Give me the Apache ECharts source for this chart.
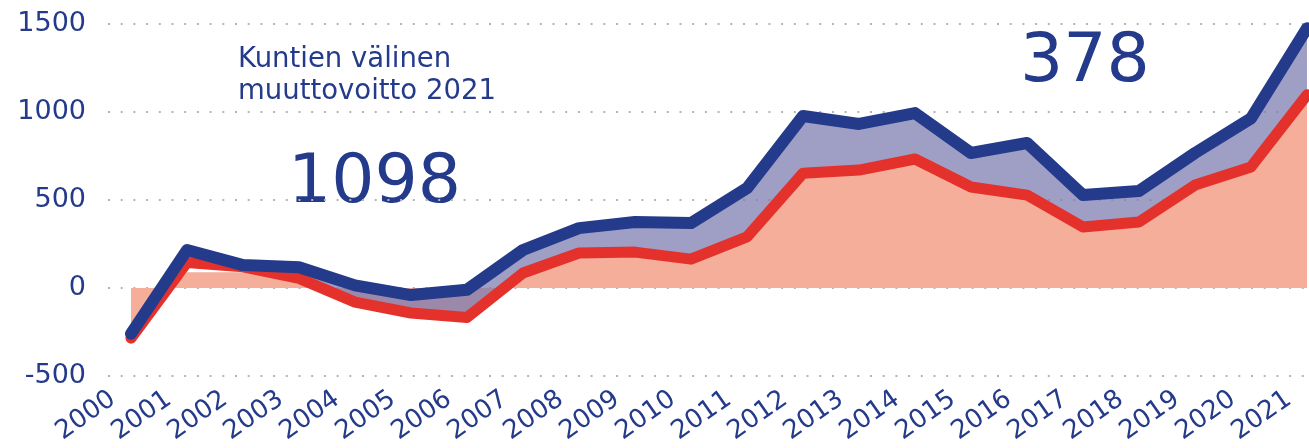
<!DOCTYPE html>
<html>
<head>
<meta charset="utf-8">
<script src="https://cdn.jsdelivr.net/npm/echarts@6/dist/echarts.min.js"></script>
<style>
  html, body { margin: 0; padding: 0; background: #fff; }
  #chart { width: 1309px; height: 448px; }
</style>
</head>
<body>
<div id="chart"></div>
<script>
// vuodet
const years = ['2000', '2001', '2002', '2003', '2004', '2005', '2006', '2007', '2008', '2009', '2010',
  '2011', '2012', '2013', '2014', '2015', '2016', '2017', '2018', '2019', '2020', '2021']
// kokonaismuuttovoitto (sininen viiva)
const totalGain = [-260, 216, 130, 118, 15, -40, -10, 216, 340, 375, 369, 567, 977, 932, 994, 767, 824, 528, 551, 767, 964, 1476]
// kuntien välinen muuttovoitto (punainen viiva)
const municipalGain = [-285, 145, 120, 55, -80, -142, -168, 85, 199, 204, 164, 290, 652, 670, 733, 574, 528, 347, 375, 585, 688, 1098]
// vaaleanpunainen alue
const areaValues = [-285, 90, 90, 90, -80, -142, -168, 85, 199, 204, 164, 290, 652, 670, 733, 574, 528, 347, 375, 585, 688, 1098]
// y-akselin asteikko
const yTicks = [-500, 0, 500, 1000, 1500]

const bandValues = totalGain.map((v, i) => v - municipalGain[i])

const blue = '#243a8a'
const red = '#e4312b'
const font = 'DejaVu Sans'

let myChart = echarts.init(document.getElementById('chart'))

let option = {
  backgroundColor: '#fff',
  animation: false,
  grid: [
    { left: 108, right: 0, top: 24, height: 352 },
    { left: 131, right: 2, top: 24, height: 352 }
  ],
  xAxis: [
    { gridIndex: 0, type: 'value', min: 0, max: 1, show: false },
    {
      gridIndex: 1,
      type: 'category',
      data: years,
      boundaryGap: false,
      axisLine: { show: false },
      axisTick: { show: false },
      axisLabel: {
        rotate: 35,
        margin: 8,
        padding: [0, 22, 0, 0],
        color: blue,
        fontFamily: font,
        fontSize: 26,
        interval: 0
      }
    }
  ],
  yAxis: [
    {
      gridIndex: 0,
      type: 'value',
      min: yTicks[0],
      max: yTicks[yTicks.length - 1],
      interval: 500,
      axisLine: { show: false },
      axisTick: { show: false },
      axisLabel: {
        color: blue,
        fontFamily: font,
        fontSize: 27,
        margin: 22,
        formatter: (v) => String(v)
      },
      splitLine: { lineStyle: { color: '#b4b4b4', width: 2, type: [2, 10.7] } }
    },
    {
      gridIndex: 1,
      type: 'value',
      min: yTicks[0],
      max: yTicks[yTicks.length - 1],
      show: false
    }
  ],
  series: [
    {
      type: 'line',
      xAxisIndex: 1,
      yAxisIndex: 1,
      data: areaValues,
      symbol: 'none',
      lineStyle: { width: 0 },
      areaStyle: { color: '#f4ae9a', opacity: 1, origin: 0 },
      z: 1
    },
    {
      type: 'line',
      xAxisIndex: 1,
      yAxisIndex: 1,
      data: municipalGain,
      stack: 'band',
      stackStrategy: 'all',
      symbol: 'none',
      lineStyle: { width: 0 },
      z: 2
    },
    {
      type: 'line',
      xAxisIndex: 1,
      yAxisIndex: 1,
      data: bandValues,
      stack: 'band',
      stackStrategy: 'all',
      symbol: 'none',
      lineStyle: { width: 0 },
      areaStyle: { color: 'rgb(124,123,175)', opacity: 0.73 },
      z: 3
    },
    {
      type: 'line',
      xAxisIndex: 1,
      yAxisIndex: 1,
      data: municipalGain,
      symbol: 'none',
      clip: false,
      lineStyle: { color: red, width: 11, cap: 'round', join: 'round' },
      z: 4
    },
    {
      type: 'line',
      xAxisIndex: 1,
      yAxisIndex: 1,
      data: totalGain,
      symbol: 'none',
      clip: false,
      lineStyle: { color: blue, width: 12, cap: 'round', join: 'round' },
      z: 5
    }
  ],
  graphic: [
    {
      type: 'text',
      left: 238,
      top: 44,
      style: { text: 'Kuntien välinen\nmuuttovoitto 2021', fill: blue, font: '27.5px "DejaVu Sans"', lineHeight: 32 }
    },
    {
      type: 'text',
      left: 288,
      top: 150,
      style: { text: '1098', fill: blue, font: '68px "DejaVu Sans"' }
    },
    {
      type: 'text',
      left: 1020,
      top: 29,
      style: { text: '378', fill: blue, font: '68px "DejaVu Sans"' }
    }
  ]
}

myChart.setOption(option)
</script>
</body>
</html>
